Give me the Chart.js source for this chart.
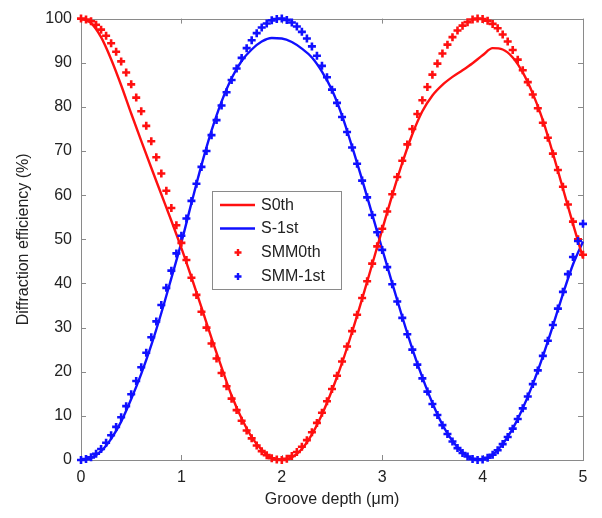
<!DOCTYPE html>
<html>
<head>
<meta charset="utf-8">
<script src="https://cdn.jsdelivr.net/npm/chart.js@4.4.1/dist/chart.umd.min.js"></script>
<style>
html,body{margin:0;padding:0;background:#fff;}
#wrap{width:602px;height:518px;}
</style>
</head>
<body>
<div id="wrap"><canvas id="c" width="602" height="518"></canvas></div>
<script>
// ---- Data ----
const depthLine = [0,0.1,0.2,0.3,0.4,0.5,0.6,0.7,0.8,0.9,1.0,1.1,1.2,1.3,1.4,1.5,1.6,1.7,1.8,1.9,2.0,2.1,2.2,2.3,2.4,2.5,2.6,2.7,2.8,2.9,3.0,3.1,3.2,3.3,3.4,3.5,3.6,3.7,3.8,3.9,4.0,4.1,4.2,4.3,4.4,4.5,4.6,4.7,4.8,4.9,5.0];
const s0th = [100,99,95.8,90.8,84.9,78.5,72.3,66.2,60.2,54.2,48.0,41.4,34.6,27.6,21,14.6,9.4,5.2,2.3,0.5,0.1,0.6,2.5,5.8,10.3,15.8,22,29,36.5,44.3,52.2,60,67.3,73.8,79,82.6,85,86.8,88.3,89.9,91.7,93.3,93.0,91.2,87.8,83,77,69.5,61.5,53.5,45.8];
const sm1st = [0,0.5,2,4.8,8.7,13.8,19.5,26,33.3,41.2,49.3,58.2,66.8,74.6,81.2,86.5,90.4,93,94.8,95.6,95.5,94.7,93.2,91.2,88,83.8,78,71,63.5,55.7,47.8,40,32.4,25.2,18.7,12.9,8,4.3,1.7,0.3,0.2,1.2,3.6,7.1,11.7,17.2,23.5,30.4,37.6,44.3,49.5];
const depthSMM = [0,0.05,0.1,0.15,0.2,0.25,0.3,0.35,0.4,0.45,0.5,0.55,0.6,0.65,0.7,0.75,0.8,0.85,0.9,0.95,1.0,1.05,1.1,1.15,1.2,1.25,1.3,1.35,1.4,1.45,1.5,1.55,1.6,1.65,1.7,1.75,1.8,1.85,1.9,1.95,2.0,2.05,2.1,2.15,2.2,2.25,2.3,2.35,2.4,2.45,2.5,2.55,2.6,2.65,2.7,2.75,2.8,2.85,2.9,2.95,3.0,3.05,3.1,3.15,3.2,3.25,3.3,3.35,3.4,3.45,3.5,3.55,3.6,3.65,3.7,3.75,3.8,3.85,3.9,3.95,4.0,4.05,4.1,4.15,4.2,4.25,4.3,4.35,4.4,4.45,4.5,4.55,4.6,4.65,4.7,4.75,4.8,4.85,4.9,4.95,5.0];
const smm0th = [100.0,99.8,99.4,98.6,97.5,96.1,94.4,92.5,90.3,87.8,85.1,82.1,79.0,75.7,72.2,68.6,64.9,61.0,57.1,53.2,49.2,45.3,41.3,37.4,33.6,30.0,26.4,23.0,19.7,16.7,13.9,11.3,8.9,6.7,4.9,3.3,2.0,1.1,0.4,0.1,0.0,0.3,0.9,1.8,3.0,4.5,6.3,8.4,10.7,13.3,16.1,19.1,22.3,25.7,29.2,32.9,36.7,40.5,44.5,48.4,52.4,56.3,60.2,64.1,67.8,71.5,75.0,78.4,81.5,84.5,87.3,89.8,92.1,94.1,95.8,97.3,98.4,99.2,99.8,100.0,99.9,99.5,98.8,97.8,96.4,94.8,92.9,90.7,88.3,85.6,82.8,79.7,76.4,73.0,69.4,65.7,61.9,57.9,54.0,50.0,46.5];
const smm1st = [0.0,0.2,0.6,1.4,2.5,3.9,5.6,7.5,9.7,12.2,14.9,17.9,21.0,24.3,27.8,31.4,35.1,39.0,42.9,46.8,50.8,54.7,58.7,62.6,66.4,70.0,73.6,77.0,80.3,83.3,86.1,88.7,91.1,93.3,95.1,96.7,98.0,98.9,99.6,99.9,100.0,99.7,99.1,98.2,97.0,95.5,93.7,91.6,89.3,86.7,83.9,80.9,77.7,74.3,70.8,67.1,63.3,59.5,55.5,51.6,47.6,43.7,39.8,35.9,32.2,28.5,25.0,21.6,18.5,15.5,12.7,10.2,7.9,5.9,4.2,2.7,1.6,0.8,0.2,0.0,0.1,0.5,1.2,2.2,3.6,5.2,7.1,9.3,11.7,14.4,17.2,20.3,23.6,27.0,30.6,34.3,38.1,42.1,46.0,49.6,53.5];
const seriesNames = ['S0th','S-1st','SMM0th','SMM-1st'];
const xTickValues = [0,1,2,3,4,5];
const yTickValues = [0,10,20,30,40,50,60,70,80,90,100];
const xTitle = 'Groove depth (\u03bcm)';
const yTitle = 'Diffraction efficiency (%)';

const RED = '#ff1010', BLUE = '#1010ff';
const FONT = "'Liberation Sans', Arial, sans-serif";
const AXIS = '#8a8a8a';

function pts(xs, ys){ return xs.map((x,i)=>({x:x, y:ys[i]})); }

const framePlugin = {
  id:'frame',
  beforeDatasetsDraw(chart){
    const {ctx, chartArea:a, scales:{x, y}} = chart;
    ctx.save();
    ctx.strokeStyle = AXIS; ctx.lineWidth = 1;
    ctx.strokeRect(Math.round(a.left)+0.5, Math.round(a.top)+0.5, Math.round(a.right-a.left), Math.round(a.bottom-a.top));
    const L = 5;
    ctx.beginPath();
    xTickValues.forEach(v=>{
      const px = Math.round(x.getPixelForValue(v))+0.5;
      ctx.moveTo(px, a.bottom); ctx.lineTo(px, a.bottom-L);
      ctx.moveTo(px, a.top); ctx.lineTo(px, a.top+L);
    });
    yTickValues.forEach(v=>{
      const py = Math.round(y.getPixelForValue(v))+0.5;
      ctx.moveTo(a.left, py); ctx.lineTo(a.left+L, py);
      ctx.moveTo(a.right, py); ctx.lineTo(a.right-L, py);
    });
    ctx.stroke();
    ctx.restore();
  },
  afterDraw(chart){
    const ctx = chart.ctx;
    const bx = 212.5, by = 191.5, bw = 129, bh = 98;
    ctx.save();
    ctx.fillStyle = '#fff';
    ctx.fillRect(bx, by, bw, bh);
    ctx.strokeStyle = '#8a8a8a'; ctx.lineWidth = 1;
    ctx.strokeRect(bx, by, bw, bh);
    const rows = [205, 228.5, 252.5, 276.5];
    chart.data.datasets.forEach((ds, i)=>{
      const yy = rows[i];
      ctx.strokeStyle = ds.borderColor;
      if (ds.showLine) {
        ctx.lineWidth = 2.3;
        ctx.beginPath(); ctx.moveTo(220, yy); ctx.lineTo(255, yy); ctx.stroke();
      } else {
        ctx.lineWidth = 2.4;
        const r = 3.5;
        ctx.beginPath();
        ctx.moveTo(238-r, yy); ctx.lineTo(238+r, yy);
        ctx.moveTo(238, yy-r); ctx.lineTo(238, yy+r);
        ctx.stroke();
      }
      ctx.fillStyle = '#222';
      ctx.font = "16px " + FONT;
      ctx.textBaseline = 'middle';
      ctx.textAlign = 'left';
      ctx.fillText(ds.label, 261, yy+0.5);
    });
    ctx.restore();
  }
};

new Chart(document.getElementById('c'), {
  type:'scatter',
  data:{
    datasets:[
      {label:seriesNames[0], data:pts(depthLine, s0th), showLine:true, borderColor:RED, backgroundColor:RED, borderWidth:2.4, pointRadius:0, cubicInterpolationMode:'monotone', clip:false, order:2},
      {label:seriesNames[1], data:pts(depthLine, sm1st), showLine:true, borderColor:BLUE, backgroundColor:BLUE, borderWidth:2.4, pointRadius:0, cubicInterpolationMode:'monotone', clip:false, order:2},
      {label:seriesNames[2], data:pts(depthSMM, smm0th), showLine:false, borderColor:RED, backgroundColor:RED, pointStyle:'cross', pointRadius:4, pointBorderWidth:2.6, clip:false, order:1},
      {label:seriesNames[3], data:pts(depthSMM, smm1st), showLine:false, borderColor:BLUE, backgroundColor:BLUE, pointStyle:'cross', pointRadius:4, pointBorderWidth:2.6, clip:false, order:0}
    ]
  },
  options:{
    responsive:false, animation:false, devicePixelRatio:1,
    layout:{padding:{top:15, right:19, left:0, bottom:0}},
    plugins:{legend:{display:false}, tooltip:{enabled:false}},
    scales:{
      x:{type:'linear', min:0, max:5,
        afterBuildTicks(s){ s.ticks = xTickValues.map(v=>({value:v})); },
        ticks:{color:'#222', font:{family:FONT, size:16}, padding:8, maxRotation:0},
        grid:{display:false, drawTicks:false}, border:{display:false},
        title:{display:true, text:xTitle, color:'#222', font:{family:FONT, size:16}, padding:{top:0,bottom:9}},
        afterFit(s){ s.height = 58; }
      },
      y:{type:'linear', min:0, max:100,
        afterBuildTicks(s){ s.ticks = yTickValues.map(v=>({value:v})); },
        ticks:{color:'#222', font:{family:FONT, size:16}, padding:9},
        grid:{display:false, drawTicks:false}, border:{display:false},
        title:{display:true, text:yTitle, color:'#222', font:{family:FONT, size:16}, padding:{top:14,bottom:0}},
        afterFit(s){ s.width = 81; }
      }
    }
  },
  plugins:[framePlugin]
});
</script>
</body>
</html>
